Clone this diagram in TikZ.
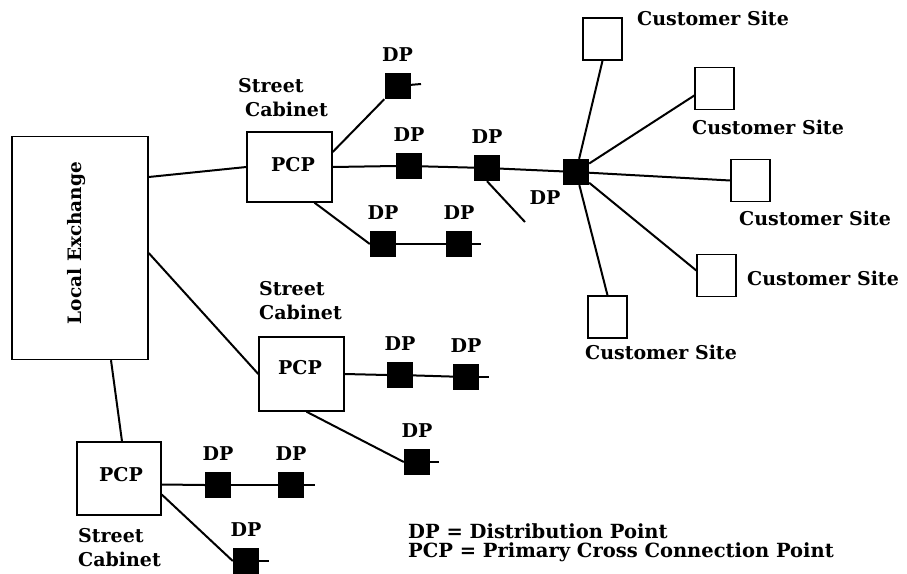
\documentclass[tikz,border=0pt]{standalone}
\usepackage{fontspec}
\setmainfont{DejaVu Serif}
\usetikzlibrary{positioning}

\tikzset{
  pcpbox/.style={draw, line width=1.4pt, minimum width=85pt, minimum height=70pt, inner sep=0pt},
  dpbox/.style={fill=black, minimum size=26pt, inner sep=0pt},
  sitebox/.style={draw, line width=1.4pt, minimum width=39pt, minimum height=42pt, inner sep=0pt},
  wire/.style={line width=2pt},
  lbl/.style={font=\bfseries\fontsize{19}{24}\selectfont, inner sep=0pt},
}

\begin{document}
\begin{tikzpicture}[x=1pt,y=1pt,yscale=-1,xscale=1]
\useasboundingbox (0,0) rectangle (907,573);

%Exchange
\node [draw, line width=1.4pt, minimum width=136pt, minimum height=223pt] (exch) at (80,248) {};
\node [lbl, font=\bfseries\fontsize{18.5}{20}\selectfont, rotate=90] (exchtxt) at (77,243) {Local Exchange};

%Street cabinets
\node [pcpbox] (pcpA) at (289.5,167) {};
\node [lbl] (pcpAtxt) at (293,165) {PCP};
\node [pcpbox, minimum height=74pt] (pcpB) at (301.5,374) {};
\node [lbl] (pcpBtxt) at (300,368) {PCP};
\node [pcpbox, minimum width=84pt, minimum height=73pt] (pcpC) at (119,478.5) {};
\node [lbl] (pcpCtxt) at (121,475) {PCP};

\node [lbl, align=left, anchor=north west] (cabA) at (238,78) {Street\\\hspace*{7pt}Cabinet};
\node [lbl, align=left, anchor=north west] (cabB) at (259,281) {Street\\Cabinet};
\node [lbl, align=left, anchor=north west] (cabC) at (78,528) {Street\\Cabinet};

%Distribution points
\node [dpbox] (dpA1) at (397.5,86) {};
\node [dpbox] (dpA2) at (409,166) {};
\node [dpbox] (dpA3) at (487,168) {};
\node [dpbox] (dpHub) at (576,172) {};
\node [dpbox] (dpA4) at (383,244) {};
\node [dpbox] (dpA5) at (459,244) {};
\node [dpbox] (dpB1) at (400,375) {};
\node [dpbox] (dpB2) at (466,377) {};
\node [dpbox] (dpB3) at (417,462) {};
\node [dpbox] (dpC1) at (218,485) {};
\node [dpbox] (dpC2) at (291,485) {};
\node [dpbox] (dpC3) at (246,561) {};

\foreach \d in {dpA1,dpA2,dpA3,dpA4,dpA5,dpB1,dpB2,dpB3,dpC1,dpC2,dpC3}
  \node [lbl, above=11pt of \d] (\d txt) {DP};
\node [lbl] (dpHubtxt) at (545,198) {DP};

%Customer sites
\node [sitebox] (csA) at (602.5,39) {};
\node [sitebox] (csB) at (714.5,88.5) {};
\node [sitebox] (csC) at (750.5,180.5) {};
\node [sitebox] (csD) at (716.5,275.5) {};
\node [sitebox] (csE) at (607.5,317) {};

\node [lbl] (csAtxt) at (713,18) {Customer Site};
\node [lbl] (csBtxt) at (768,127) {Customer Site};
\node [lbl] (csCtxt) at (815,218) {Customer Site};
\node [lbl] (csDtxt) at (823,278) {Customer Site};
\node [lbl] (csEtxt) at (661,352) {Customer Site};

%Loose ends
\coordinate (sA1) at (421,84);
\coordinate (sA3) at (525,222);
\coordinate (sA5) at (481,244);
\coordinate (sB2) at (489,377);
\coordinate (sB3) at (439,462);
\coordinate (sC2) at (315,485);
\coordinate (sC3) at (269,561);

%Straight Lines
\draw [wire] ([yshift=-71pt]exch.east) -- (pcpA.west);
\draw [wire] ([yshift=5pt]exch.east) -- (pcpB.west);
\draw [wire] ([xshift=31pt]exch.south) -- ([xshift=3pt]pcpC.north);

\draw [wire] ([yshift=-15pt]pcpA.east) -- (dpA1.south west);
\draw [wire] (dpA1) -- (sA1);
\draw [wire] (pcpA.east) -- (dpA2.west);
\draw [wire] (dpA2) -- (dpA3);
\draw [wire] (dpA3) -- (dpHub);
\draw [wire] (dpA3.south) -- (sA3);
\draw [wire] ([xshift=25pt]pcpA.south) -- (dpA4.west);
\draw [wire] (dpA4) -- (dpA5);
\draw [wire] (dpA5) -- (sA5);

\draw [wire] (dpHub) -- (csA.south);
\draw [wire] (dpHub) -- ([yshift=7pt]csB.west);
\draw [wire] (dpHub) -- (csC.west);
\draw [wire] (dpHub) -- ([yshift=-5pt]csD.west);
\draw [wire] (dpHub) -- (csE.north);

\draw [wire] (pcpB.east) -- (dpB1.west);
\draw [wire] (dpB1) -- (dpB2);
\draw [wire] (dpB2) -- (sB2);
\draw [wire] ([xshift=5pt]pcpB.south) -- (dpB3.west);
\draw [wire] (dpB3) -- (sB3);

\draw [wire] ([yshift=6pt]pcpC.east) -- (dpC1.west);
\draw [wire] (dpC1) -- (dpC2);
\draw [wire] (dpC2) -- (sC2);
\draw [wire] ([yshift=16pt]pcpC.east) -- (dpC3.west);
\draw [wire] (dpC3) -- (sC3);

%Legend
\node [lbl, font=\bfseries\fontsize{19.5}{19}\selectfont, align=left, anchor=north west] (legend) at (408,523) {DP = Distribution Point\\PCP = Primary Cross Connection Point};

\end{tikzpicture}
\end{document}
